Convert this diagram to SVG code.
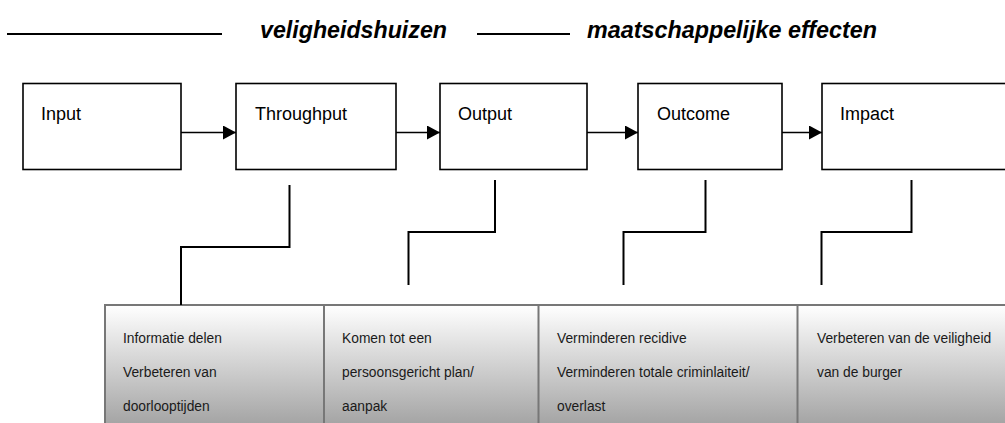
<svg xmlns="http://www.w3.org/2000/svg" width="1005" height="423" viewBox="0 0 1005 423">
<defs>
<style>
.box{fill:#fff;stroke:#000;stroke-width:1.6}
.lbl{font-family:"Liberation Sans",Arial,sans-serif;font-size:18px;fill:#000}
.hdr{font-family:"Liberation Sans",Arial,sans-serif;font-size:24px;font-weight:bold;font-style:italic;fill:#000}
.cell{font-family:"Liberation Sans",Arial,sans-serif;font-size:13.8px;fill:#1a1a1a}
.conn{fill:none;stroke:#000;stroke-width:2}
.arr{fill:none;stroke:#000;stroke-width:1.6}
.ul{stroke:#000;stroke-width:2}
.div{stroke:#777;stroke-width:2}
</style>
<linearGradient id="g" x1="0" y1="0" x2="0" y2="1">
<stop offset="0" stop-color="#ffffff"/>
<stop offset="1" stop-color="#9c9c9c"/>
</linearGradient>
<marker id="ah" markerWidth="13" markerHeight="14" refX="13" refY="7" orient="auto" markerUnits="userSpaceOnUse">
<path d="M0,0 L13,7 L0,14 Z" fill="#000"/>
</marker>
</defs>
<rect width="1005" height="423" fill="#fff"/>
<g id="header">
<line class="ul" x1="7" y1="34" x2="222" y2="34"/>
<text class="hdr" x="260" y="38" textLength="187" lengthAdjust="spacingAndGlyphs">veligheidshuizen</text>
<line class="ul" x1="477" y1="34" x2="570" y2="34"/>
<text class="hdr" x="587" y="38" textLength="290" lengthAdjust="spacingAndGlyphs">maatschappelijke effecten</text>
</g>
<g id="input"><rect class="box" x="23" y="83.5" width="158" height="86"/><text class="lbl" x="41" y="120">Input</text></g>
<g id="throughput"><rect class="box" x="236" y="83.5" width="160" height="86"/><text class="lbl" x="255" y="120">Throughput</text></g>
<g id="output"><rect class="box" x="440" y="83.5" width="147" height="86"/><text class="lbl" x="458" y="120">Output</text></g>
<g id="outcome"><rect class="box" x="638" y="83.5" width="144" height="86"/><text class="lbl" x="657" y="120">Outcome</text></g>
<g id="impact"><rect class="box" x="822" y="83.5" width="190" height="86"/><text class="lbl" x="840" y="120">Impact</text></g>
<g id="table">
<rect x="105" y="305" width="910" height="130" fill="url(#g)"/>
<line class="div" x1="104" y1="305" x2="1010" y2="305"/>
<line class="div" x1="105" y1="304" x2="105" y2="423"/>
<line class="div" x1="324" y1="305" x2="324" y2="423"/>
<line class="div" x1="538.5" y1="305" x2="538.5" y2="423"/>
<line class="div" x1="797.5" y1="305" x2="797.5" y2="423"/>
<g id="cell1"><text class="cell" x="123" y="343">Informatie delen</text><text class="cell" x="123" y="377">Verbeteren van</text><text class="cell" x="123" y="411">doorlooptijden</text></g>
<g id="cell2"><text class="cell" x="342" y="343">Komen tot een</text><text class="cell" x="342" y="377">persoonsgericht plan/</text><text class="cell" x="342" y="411">aanpak</text></g>
<g id="cell3"><text class="cell" x="557" y="343">Verminderen recidive</text><text class="cell" x="557" y="377">Verminderen totale criminlaiteit/</text><text class="cell" x="557" y="411">overlast</text></g>
<g id="cell4"><text class="cell" x="817" y="343">Verbeteren van de veiligheid</text><text class="cell" x="817" y="377">van de burger</text></g>
</g>
<g id="connectors">
<line class="arr" x1="181" y1="132.5" x2="236" y2="132.5" marker-end="url(#ah)"/>
<line class="arr" x1="396" y1="132.5" x2="440" y2="132.5" marker-end="url(#ah)"/>
<line class="arr" x1="587" y1="132.5" x2="638" y2="132.5" marker-end="url(#ah)"/>
<line class="arr" x1="782" y1="132.5" x2="822" y2="132.5" marker-end="url(#ah)"/>
<polyline class="conn" points="289.5,185 289.5,247 181,247 181,305"/>
<polyline class="conn" points="495,180 495,232 408.5,232 408.5,285"/>
<polyline class="conn" points="705.5,180 705.5,232 623.5,232 623.5,285"/>
<polyline class="conn" points="911.5,180 911.5,232 821.5,232 821.5,285"/>
</g>
</svg>
